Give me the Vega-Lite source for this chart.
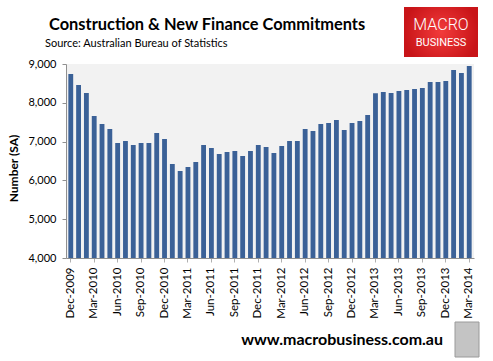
{
  "$schema": "https://vega.github.io/schema/vega-lite/v6.json",
  "width": 408,
  "height": 194,
  "autosize": {"type": "none"},
  "padding": {"left": 66, "top": 64, "right": 19, "bottom": 103},
  "background": "#ffffff",
  "config": {"view": {"fill": "#f2f2f2", "stroke": null}},
  "data": {
    "values": [
      {"m": "Dec-2009", "v": 8742}, {"m": "Jan-2010", "v": 8459}, {"m": "Feb-2010", "v": 8253},
      {"m": "Mar-2010", "v": 7660}, {"m": "Apr-2010", "v": 7454}, {"m": "May-2010", "v": 7325},
      {"m": "Jun-2010", "v": 6964}, {"m": "Jul-2010", "v": 7015}, {"m": "Aug-2010", "v": 6912},
      {"m": "Sep-2010", "v": 6964}, {"m": "Oct-2010", "v": 6964}, {"m": "Nov-2010", "v": 7222},
      {"m": "Dec-2010", "v": 7067}, {"m": "Jan-2011", "v": 6423}, {"m": "Feb-2011", "v": 6242},
      {"m": "Mar-2011", "v": 6345}, {"m": "Apr-2011", "v": 6474}, {"m": "May-2011", "v": 6912},
      {"m": "Jun-2011", "v": 6835}, {"m": "Jul-2011", "v": 6680}, {"m": "Aug-2011", "v": 6732},
      {"m": "Sep-2011", "v": 6758}, {"m": "Oct-2011", "v": 6629}, {"m": "Nov-2011", "v": 6758},
      {"m": "Dec-2011", "v": 6912}, {"m": "Jan-2012", "v": 6861}, {"m": "Feb-2012", "v": 6706},
      {"m": "Mar-2012", "v": 6887}, {"m": "Apr-2012", "v": 7015}, {"m": "May-2012", "v": 7015},
      {"m": "Jun-2012", "v": 7325}, {"m": "Jul-2012", "v": 7273}, {"m": "Aug-2012", "v": 7454},
      {"m": "Sep-2012", "v": 7479}, {"m": "Oct-2012", "v": 7557}, {"m": "Nov-2012", "v": 7299},
      {"m": "Dec-2012", "v": 7479}, {"m": "Jan-2013", "v": 7531}, {"m": "Feb-2013", "v": 7686},
      {"m": "Mar-2013", "v": 8244}, {"m": "Apr-2013", "v": 8278}, {"m": "May-2013", "v": 8253},
      {"m": "Jun-2013", "v": 8304}, {"m": "Jul-2013", "v": 8330}, {"m": "Aug-2013", "v": 8356},
      {"m": "Sep-2013", "v": 8381}, {"m": "Oct-2013", "v": 8536}, {"m": "Nov-2013", "v": 8536},
      {"m": "Dec-2013", "v": 8562}, {"m": "Jan-2014", "v": 8845}, {"m": "Feb-2014", "v": 8768},
      {"m": "Mar-2014", "v": 8948}
    ]
  },
  "layer": [
    {
      "mark": {"type": "bar", "color": "#3b6197"},
      "encoding": {
        "x": {
          "field": "m",
          "type": "ordinal",
          "sort": null,
          "scale": {"paddingInner": 0.38, "paddingOuter": 0.3},
          "axis": {
            "title": null,
            "values": ["Dec-2009", "Mar-2010", "Jun-2010", "Sep-2010", "Dec-2010", "Mar-2011", "Jun-2011", "Sep-2011", "Dec-2011", "Mar-2012", "Jun-2012", "Sep-2012", "Dec-2012", "Mar-2013", "Jun-2013", "Sep-2013", "Dec-2013", "Mar-2014"],
            "labelAngle": -90,
            "labelAlign": "right",
            "labelBaseline": "middle",
            "labelFont": "Lato",
            "labelFontSize": 11.5,
            "labelColor": "#000000",
            "labelPadding": 5,
            "ticks": true,
            "tickSize": 4,
            "tickColor": "#b0b0b0",
            "domainColor": "#909090"
          }
        },
        "y": {
          "field": "v",
          "type": "quantitative",
          "scale": {"domain": [4000, 9000], "nice": false, "zero": false},
          "axis": {
            "title": "Number (SA)",
            "values": [4000, 5000, 6000, 7000, 8000, 9000],
            "format": ",.0f",
            "grid": false,
            "labelFont": "Lato",
            "labelFontSize": 11,
            "labelColor": "#000000",
            "labelPadding": 6,
            "tickSize": 4,
            "tickColor": "#909090",
            "domainColor": "#909090",
            "titleFont": "Lato",
            "titleFontSize": 12,
            "titleFontWeight": "bold",
            "titleColor": "#000000",
            "titleX": -53,
            "titleY": 104,
            "titleAlign": "center",
            "titleBaseline": "middle",
            "titleAngle": -90
          }
        },
        "y2": {"datum": 4000}
      }
    },
    {
      "data": {"values": [{"t": "Construction & New Finance Commitments"}]},
      "mark": {"type": "text", "font": "Lato", "fontSize": 16.4, "fontWeight": "bold", "align": "left", "baseline": "middle", "color": "#000000"},
      "encoding": {"text": {"field": "t"}, "x": {"value": -17}, "y": {"value": -39}}
    },
    {
      "data": {"values": [{"t": "Source: Australian Bureau of Statistics"}]},
      "mark": {"type": "text", "font": "Lato", "fontSize": 11, "align": "left", "baseline": "middle", "color": "#000000"},
      "encoding": {"text": {"field": "t"}, "x": {"value": -21}, "y": {"value": -20}}
    },
    {
      "data": {"values": [{"t": "www.macrobusiness.com.au"}]},
      "mark": {"type": "text", "font": "Lato", "fontSize": 16, "fontWeight": "bold", "align": "right", "baseline": "middle", "color": "#000000"},
      "encoding": {"text": {"field": "t"}, "x": {"value": 377}, "y": {"value": 276}}
    },
    {
      "data": {"values": [{"t": "logo"}]},
      "mark": {
        "type": "rect",
        "color": {"gradient": "radial", "stops": [{"offset": 0, "color": "#f23b3b"}, {"offset": 1, "color": "#c81418"}]}
      },
      "encoding": {"x": {"value": 338}, "x2": {"value": 412}, "y": {"value": -57}, "y2": {"value": -7}}
    },
    {
      "data": {"values": [{"t": "MACRO"}]},
      "mark": {"type": "text", "font": "Roboto", "fontWeight": 300, "fontSize": 16, "align": "center", "baseline": "middle", "color": "#ffffff"},
      "encoding": {"text": {"field": "t"}, "x": {"value": 375}, "y": {"value": -39}}
    },
    {
      "data": {"values": [{"t": "BUSINESS"}]},
      "mark": {"type": "text", "font": "Roboto", "fontWeight": 400, "fontSize": 11, "align": "center", "baseline": "middle", "color": "#ffffff"},
      "encoding": {"text": {"field": "t"}, "x": {"value": 375}, "y": {"value": -21}}
    },
    {
      "data": {"values": [{"t": "wolf"}]},
      "mark": {"type": "rect", "fill": "#c4c4c4", "stroke": "#9a9a9a", "strokeWidth": 1},
      "encoding": {"x": {"value": 389}, "x2": {"value": 413}, "y": {"value": 258}, "y2": {"value": 293}}
    }
  ]
}
